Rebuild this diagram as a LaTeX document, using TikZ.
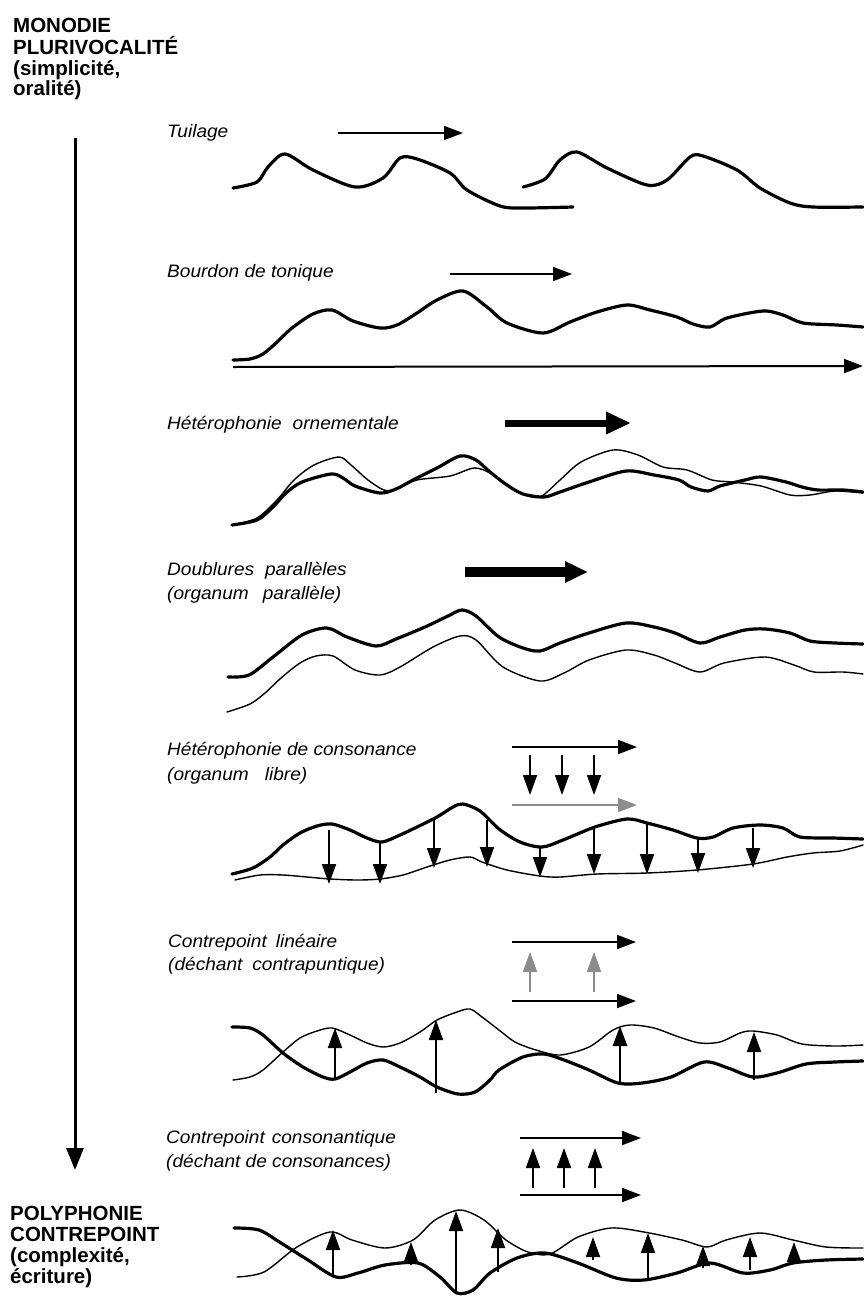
\documentclass[tikz,border=0pt]{standalone}
\usepackage{fontspec}
\usetikzlibrary{arrows.meta}
\newfontfamily\labfont[FakeStretch=1.06]{Liberation Sans}
\newfontfamily\headfont{Liberation Sans}
\definecolor{greyarrow}{RGB}{140,140,140}
\tikzset{
  thickcurve/.style={line width=3.2pt, line join=round, line cap=round},
  thincurve/.style={line width=1.4pt, line join=round, line cap=round},
  flow/.style={line width=1.8pt, -{Triangle[length=19pt,width=14pt]}},
  bigflow/.style={line width=7pt, -{Triangle[length=25pt,width=21pt]}},
  hugeflow/.style={line width=10pt, -{Triangle[length=23pt,width=20pt]}},
  vflow/.style={line width=1.8pt, -{Triangle[length=20pt,width=14pt]}},
  labeltext/.style={anchor=base west, inner sep=0pt, font=\labfont\itshape\fontsize{18}{21}\selectfont},
  headtext/.style={anchor=base west, inner sep=0pt, font=\headfont\bfseries\fontsize{20.5}{22}\selectfont},
}
\begin{document}
\begin{tikzpicture}[x=1pt,y=-1pt]
\path[use as bounding box] (0,0) rectangle (863,1296);

% ---------- headers ----------
\node[headtext] (h1) at (13,32) {MONODIE};
\node[headtext] (h2) at (13,54) {PLURIVOCALITÉ};
\node[headtext] (h3) at (13,75) {(simplicité,};
\node[headtext] (h4) at (13,95) {oralité)};
\node[headtext] (f1) at (10,1220) {POLYPHONIE};
\node[headtext] (f2) at (10,1241) {CONTREPOINT};
\node[headtext] (f3) at (10,1262) {(complexité,};
\node[headtext] (f4) at (10,1283) {écriture)};

% main vertical arrow
\coordinate (vtop) at (75,138);
\coordinate (vbot) at (75,1170);
\draw[line width=3pt, -{Triangle[length=22pt,width=17pt]}] (vtop) -- (vbot);

% ---------- 1. Tuilage ----------
\node[labeltext] (l1) at (167,137) {Tuilage};
\coordinate (a1s) at (338,133); \coordinate (a1e) at (463,133);
\draw[flow, line width=1.6pt] (a1s) -- (a1e);
\draw[thickcurve] plot[smooth, tension=0.5] coordinates {(233,188) (257,182) (268,167) (285,154) (313,170) (355,187) (383,178) (400,158) (417,159) (450,173) (467,190) (500,206) (523,208) (573,207)};
\draw[thickcurve] plot[smooth, tension=0.5] coordinates {(523,187) (545,179) (560,160) (577,152) (607,168) (647,185) (667,180) (690,157) (703,156) (737,170) (760,188) (790,203) (813,207) (863,207)};

% ---------- 2. Bourdon ----------
\node[labeltext] (l2) at (167,277) {Bourdon de tonique};
\coordinate (a2s) at (450,274); \coordinate (a2e) at (572,274);
\draw[flow, line width=1.6pt] (a2s) -- (a2e);
\draw[thickcurve] plot[smooth, tension=0.5] coordinates {(233,360) (250,359) (263,354) (276,343) (292,328) (313,314) (332,310) (353,321) (380,328) (397,325) (417,313) (437,300) (463,291) (487,307) (507,323) (543,333) (570,322) (597,312) (627,305) (650,310) (677,317) (693,324) (710,327) (727,318) (763,311) (783,315) (803,323) (837,325) (863,327)};
\coordinate (b2s) at (233,367); \coordinate (b2e) at (863,366);
\draw[flow, line width=2pt] (b2s) -- (b2e);

% ---------- 3. Hétérophonie ornementale ----------
\node[labeltext] (l3) at (167,429) {Hétérophonie\hspace{11pt}ornementale};
\coordinate (a3s) at (505,423); \coordinate (a3e) at (631,423);
\draw[bigflow] (a3s) -- (a3e);
\draw[thickcurve] plot[smooth, tension=0.5] coordinates {(232,525) (257,520) (273,507) (286,493) (302,482) (331,474) (343,478) (355,486) (380,493) (396,489) (413,480) (437,468) (460,456) (476,460) (490,472) (507,485) (523,494) (544,497) (560,492) (589,482) (626,471) (654,475) (679,480) (691,487) (708,491) (720,486) (745,480) (761,477) (786,482) (802,487) (818,490) (843,490) (863,492)};
\draw[thincurve] plot[smooth, tension=0.5] coordinates {(232,525) (257,518) (277,500) (294,480) (314,465) (339,457) (351,465) (368,480) (384,490) (396,489) (417,480) (450,476) (474,468) (490,473) (507,485) (523,494) (540,497) (560,480) (581,462) (613,450) (638,455) (663,467) (687,470) (712,480) (732,482) (761,486) (790,495) (810,495) (835,491) (863,493)};

% ---------- 4. Doublures parallèles ----------
\node[labeltext] (l4a) at (167,575) {Doublures\hspace{11pt}parallèles};
\node[labeltext] (l4b) at (167,599) {(organum\hspace{14pt}parallèle)};
\coordinate (a4s) at (465,572); \coordinate (a4e) at (588,572);
\draw[hugeflow] (a4s) -- (a4e);
\draw[thickcurve] plot[smooth, tension=0.5] coordinates {(228,677) (249,675) (273,657) (302,635) (327,628) (347,637) (376,646) (396,639) (425,627) (448,616) (462,610) (476,616) (499,637) (523,648) (540,651) (560,643) (589,633) (626,623) (654,627) (675,633) (700,643) (720,637) (745,630) (765,629) (790,633) (810,641) (835,643) (863,644)};
\draw[thincurve] plot[smooth, tension=0.5] coordinates {(227,712) (250,704) (265,693) (281,678) (300,663) (316,656) (333,656) (355,670) (380,675) (400,667) (433,647) (460,636) (476,640) (503,667) (540,681) (564,673) (589,660) (626,650) (654,655) (675,663) (700,672) (724,663) (765,657) (794,665) (814,672) (843,672) (863,674)};

% ---------- 5. Hétérophonie de consonance ----------
\node[labeltext] (l5a) at (167,755) {Hétérophonie de consonance};
\node[labeltext] (l5b) at (167,780) {(organum\hspace{16pt}libre)};
\coordinate (a5s) at (512,747); \coordinate (a5e) at (637,747);
\draw[flow] (a5s) -- (a5e);
\coordinate (g5s) at (512,805); \coordinate (g5e) at (637,805);
\draw[flow, greyarrow] (g5s) -- (g5e);
\foreach \x [count=\i] in {530,562,594} {
  \coordinate (d5t\i) at (\x,755); \coordinate (d5b\i) at (\x,795);
  \draw[vflow] (d5t\i) -- (d5b\i);
}
\draw[thickcurve] plot[smooth, tension=0.5] coordinates {(232,874) (253,868) (270,857) (283,845) (300,833) (317,826) (332,824) (350,830) (367,838) (382,842) (400,835) (417,827) (437,817) (453,807) (463,804) (480,811) (499,829) (520,842) (542,847) (563,840) (595,827) (627,819) (647,823) (673,830) (697,838) (713,837) (733,828) (760,825) (783,828) (800,837) (833,838) (863,839)};
\draw[thincurve] plot[smooth, tension=0.5] coordinates {(235,880) (260,875) (283,875) (307,877) (330,879) (357,880) (380,879) (403,875) (427,867) (450,860) (470,857) (482,862) (507,870) (540,876) (560,877) (597,874) (647,873) (697,870) (753,864) (787,857) (813,853) (840,851) (863,845)};
\foreach \x/\t/\b [count=\i] in {329/830/884, 380/842/884, 434/819/868, 487/820/867, 540/847/877, 594/828/874, 647/823/874, 698/838/873, 753/828/868} {
  \coordinate (e5t\i) at (\x,\t); \coordinate (e5b\i) at (\x,\b);
  \draw[vflow] (e5t\i) -- (e5b\i);
}

% ---------- 6. Contrepoint linéaire ----------
\node[labeltext] (l6a) at (168,947) {Contrepoint\hspace{9pt}linéaire};
\node[labeltext] (l6b) at (168,970) {(déchant\hspace{10pt}contrapuntique)};
\coordinate (a6s) at (512,942); \coordinate (a6e) at (636,942);
\draw[flow] (a6s) -- (a6e);
\coordinate (b6s) at (512,1001); \coordinate (b6e) at (636,1001);
\draw[flow] (b6s) -- (b6e);
\foreach \x [count=\i] in {530,594} {
  \coordinate (u6b\i) at (\x,992); \coordinate (u6t\i) at (\x,952);
  \draw[vflow, greyarrow] (u6b\i) -- (u6t\i);
}
\draw[thickcurve] plot[smooth, tension=0.5] coordinates {(232,1027) (250,1028) (263,1035) (283,1053) (303,1067) (323,1077) (335,1079) (350,1072) (367,1063) (383,1060) (400,1067) (420,1077) (437,1087) (458,1094) (475,1092) (490,1080) (499,1070) (523,1057) (544,1054) (564,1060) (589,1070) (618,1083) (642,1083) (671,1077) (704,1062) (728,1068) (753,1077) (777,1073) (806,1064) (835,1062) (863,1061)};
\draw[thincurve] plot[smooth, tension=0.5] coordinates {(233,1080) (250,1077) (263,1070) (283,1052) (300,1038) (317,1031) (332,1028) (350,1035) (367,1043) (383,1047) (400,1043) (420,1032) (437,1020) (457,1012) (470,1009) (482,1017) (499,1030) (515,1042) (536,1050) (560,1055) (589,1047) (613,1030) (630,1025) (654,1028) (679,1037) (700,1043) (720,1042) (740,1033) (753,1031) (777,1035) (802,1044) (835,1046) (863,1045)};
\foreach \x/\b/\t/\w [count=\i] in {335/1079/1028/1.8, 436/1093/1020/1.8, 620/1085/1026/2.8, 754/1080/1032/1.8} {
  \coordinate (v6b\i) at (\x,\b); \coordinate (v6t\i) at (\x,\t);
  \draw[vflow, line width=\w pt] (v6b\i) -- (v6t\i);
}

% ---------- 7. Contrepoint consonantique ----------
\node[labeltext] (l7a) at (166,1143) {Contrepoint\hspace{7pt}consonantique};
\node[labeltext] (l7b) at (166,1167) {(déchant de consonances)};
\coordinate (a7s) at (520,1138); \coordinate (a7e) at (641,1138);
\draw[flow] (a7s) -- (a7e);
\coordinate (b7s) at (520,1195); \coordinate (b7e) at (641,1195);
\draw[flow] (b7s) -- (b7e);
\foreach \x [count=\i] in {533,564,595} {
  \coordinate (u7b\i) at (\x,1188); \coordinate (u7t\i) at (\x,1148);
  \draw[vflow] (u7b\i) -- (u7t\i);
}
\draw[thickcurve] plot[smooth, tension=0.5] coordinates {(234,1228) (259,1230) (281,1243) (308,1260) (336,1277) (358,1273) (385,1265) (418,1263) (440,1277) (457,1293) (473,1290) (490,1273) (517,1258) (545,1253) (578,1263) (616,1278) (644,1280) (677,1273) (710,1263) (743,1273) (770,1270) (793,1263) (826,1260) (863,1259)};
\draw[thincurve] plot[smooth, tension=0.5] coordinates {(237,1277) (264,1272) (297,1247) (330,1232) (352,1240) (385,1248) (413,1240) (435,1220) (460,1210) (484,1220) (506,1240) (528,1252) (550,1254) (578,1237) (611,1228) (644,1232) (682,1240) (707,1247) (726,1240) (760,1233) (793,1240) (826,1247) (863,1248)};
\foreach \x/\b/\t [count=\i] in {333/1277/1230, 411/1265/1242, 456/1293/1211, 498/1272/1228, 593/1260/1237, 648/1278/1233, 703/1268/1246, 750/1270/1237, 794/1262/1242} {
  \coordinate (v7b\i) at (\x,\b); \coordinate (v7t\i) at (\x,\t);
  \draw[vflow] (v7b\i) -- (v7t\i);
}
\end{tikzpicture}
\end{document}
